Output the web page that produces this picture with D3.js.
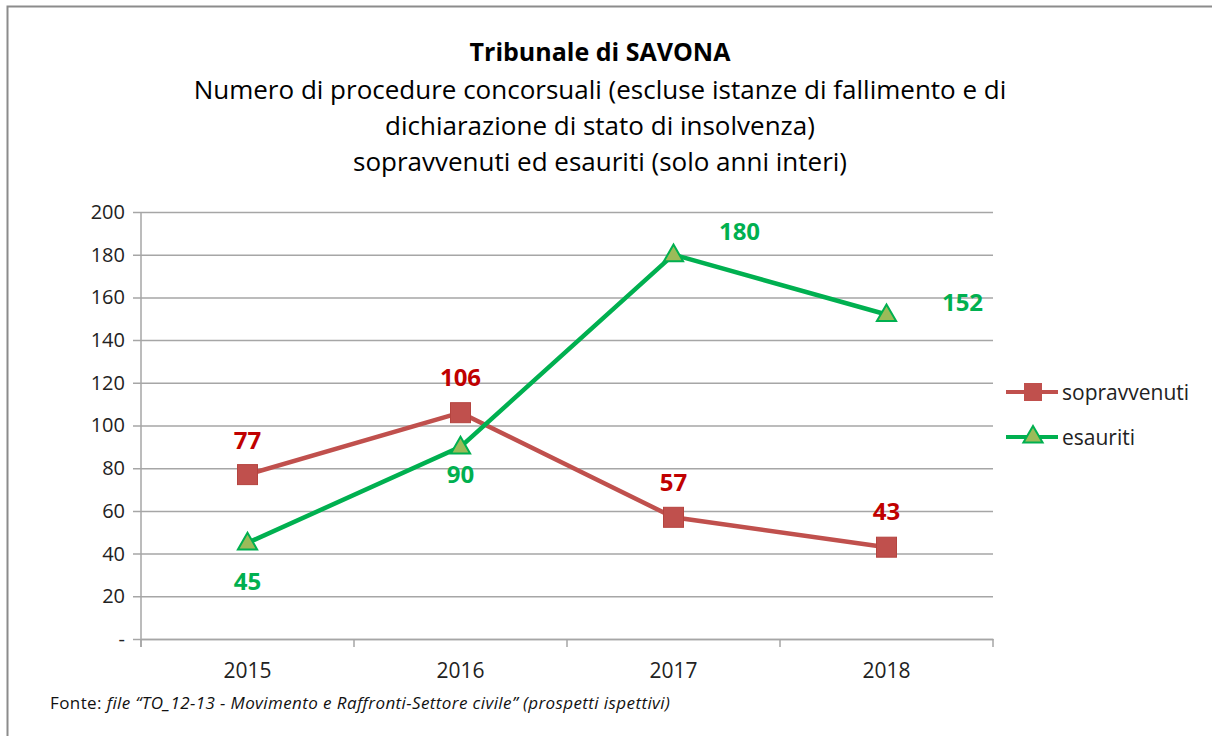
<!DOCTYPE html>
<html>
<head>
<meta charset="utf-8">
<script src="https://cdn.jsdelivr.net/npm/d3@7"></script>
<style>
body { margin: 0; background: #fff; }
svg { display: block; font-family: "Open Sans", "Liberation Sans", sans-serif; }
</style>
</head>
<body>
<div id="chart"></div>
<script>
var years = ["2015", "2016", "2017", "2018"];
var sopravvenuti = [77, 106, 57, 43];
var esauriti = [45, 90, 180, 152];
var yTicks = [0, 20, 40, 60, 80, 100, 120, 140, 160, 180, 200];

var W = 1212, H = 736;
var margin = { top: 212, right: 219, bottom: 97, left: 141 },
    width = W - margin.left - margin.right,
    height = H - margin.top - margin.bottom;

var svg = d3.select("#chart").append("svg")
    .attr("width", W)
    .attr("height", H);

// frame
svg.append("rect")
    .attr("x", 7.5).attr("y", 6.5)
    .attr("width", W + 10).attr("height", H + 10)
    .attr("fill", "none")
    .attr("stroke", "#8c8c8c")
    .attr("stroke-width", 2);

// titles
svg.append("text")
    .attr("x", 600).attr("y", 61)
    .attr("text-anchor", "middle")
    .style("font-size", "25px").style("font-weight", "bold")
    .text("Tribunale di SAVONA");
var sub = ["Numero di procedure concorsuali (escluse istanze di fallimento e di",
    "dichiarazione di stato di insolvenza)",
    "sopravvenuti ed esauriti (solo anni interi)"];
sub.forEach(function (s, i) {
    svg.append("text")
        .attr("x", 600).attr("y", 99 + i * 36)
        .attr("text-anchor", "middle")
        .style("font-size", "26px")
        .text(s);
});

var g = svg.append("g")
    .attr("transform", "translate(" + margin.left + "," + margin.top + ")");

var x = d3.scaleBand().domain(years).range([0, width]);
var y = d3.scaleLinear().domain([0, 200]).range([height, 0]);

// y gridlines + axis
var yAxis = g.append("g")
    .call(d3.axisLeft(y).tickValues(yTicks).tickSize(-width)
        .tickFormat(function (d) { return d === 0 ? "-" : d; }));
yAxis.select(".domain").remove();
yAxis.selectAll(".tick line")
    .attr("x1", -8)
    .attr("stroke", "#a6a6a6").attr("stroke-width", 1.5);
yAxis.selectAll(".tick text")
    .attr("x", -16)
    .style("font-size", "20px").style("font-family", "\"Open Sans\", sans-serif")
    .attr("fill", "#222");

// y axis line
g.append("line")
    .attr("x1", 0).attr("x2", 0).attr("y1", 0).attr("y2", height + 8)
    .attr("stroke", "#a6a6a6").attr("stroke-width", 1.5);

// x axis
var xAxis = g.append("g")
    .attr("transform", "translate(0," + height + ")")
    .call(d3.axisBottom(x).tickSize(0).tickPadding(24));
xAxis.select(".domain").attr("stroke", "#a6a6a6").attr("stroke-width", 1.5);
xAxis.selectAll(".tick text")
    .style("font-size", "21px").style("font-family", "\"Open Sans\", sans-serif")
    .attr("fill", "#222");
var bounds = years.map(function (d) { return x(d); }).concat([width]);
g.selectAll(".xtick").data(bounds).enter().append("line")
    .attr("x1", function (d) { return d; }).attr("x2", function (d) { return d; })
    .attr("y1", height).attr("y2", height + 8)
    .attr("stroke", "#a6a6a6").attr("stroke-width", 1.5);

var cx = function (d, i) { return x(years[i]) + x.bandwidth() / 2; };
var line = d3.line().x(cx).y(function (d) { return y(d); });

// sopravvenuti
g.append("path").datum(sopravvenuti)
    .attr("d", line).attr("fill", "none")
    .attr("stroke", "#c0504d").attr("stroke-width", 4.5);
g.selectAll(".sq").data(sopravvenuti).enter().append("rect")
    .attr("x", function (d, i) { return cx(d, i) - 10; })
    .attr("y", function (d) { return y(d) - 10; })
    .attr("width", 20).attr("height", 20)
    .attr("fill", "#c0504d").attr("stroke", "#b5443f").attr("stroke-width", 1);

// esauriti
g.append("path").datum(esauriti)
    .attr("d", line).attr("fill", "none")
    .attr("stroke", "#00b050").attr("stroke-width", 4.5);
var tri = d3.symbol().type(d3.symbolTriangle).size(160);
g.selectAll(".tri").data(esauriti).enter().append("path")
    .attr("d", tri)
    .attr("transform", function (d, i) { return "translate(" + cx(d, i) + "," + (y(d) + 1) + ")"; })
    .attr("fill", "#9bbb59").attr("stroke", "#00b050").attr("stroke-width", 2);

// data labels
var redOff = [[0, -26], [0, -27], [0, -26], [0, -27]];
var greenOff = [[0, 47], [0, 36], [66, -15], [76, -3]];
g.selectAll(".lr").data(sopravvenuti).enter().append("text")
    .attr("x", function (d, i) { return cx(d, i) + redOff[i][0]; })
    .attr("y", function (d, i) { return y(d) + redOff[i][1]; })
    .attr("text-anchor", "middle")
    .style("font-size", "24px").style("font-weight", "bold")
    .attr("fill", "#c00000")
    .text(function (d) { return d; });
g.selectAll(".lg").data(esauriti).enter().append("text")
    .attr("x", function (d, i) { return cx(d, i) + greenOff[i][0]; })
    .attr("y", function (d, i) { return y(d) + greenOff[i][1]; })
    .attr("text-anchor", "middle")
    .style("font-size", "24px").style("font-weight", "bold")
    .attr("fill", "#00b050")
    .text(function (d) { return d; });

// legend
var legend = svg.append("g").attr("transform", "translate(1006,392)");
legend.append("line").attr("x1", 0).attr("x2", 52).attr("y1", 0).attr("y2", 0)
    .attr("stroke", "#c0504d").attr("stroke-width", 4);
legend.append("rect").attr("x", 18).attr("y", -9).attr("width", 18).attr("height", 18)
    .attr("fill", "#c0504d");
legend.append("text").attr("x", 56).attr("y", 8)
    .style("font-size", "21px").attr("fill", "#222").text("sopravvenuti");
legend.append("line").attr("x1", 0).attr("x2", 52).attr("y1", 45).attr("y2", 45)
    .attr("stroke", "#00b050").attr("stroke-width", 4);
legend.append("path").attr("d", tri)
    .attr("transform", "translate(27,45)")
    .attr("fill", "#9bbb59").attr("stroke", "#00b050").attr("stroke-width", 2);
legend.append("text").attr("x", 56).attr("y", 53)
    .style("font-size", "21px").attr("fill", "#222").text("esauriti");

// source note
var src = svg.append("text").attr("x", 50).attr("y", 709)
    .style("font-size", "17px").style("letter-spacing", "0.4px").attr("fill", "#111");
src.append("tspan").text("Fonte: ");
src.append("tspan").style("font-style", "italic")
    .text("file \u201CTO_12-13 - Movimento e Raffronti-Settore civile\u201D (prospetti ispettivi)");
</script>
</body>
</html>
